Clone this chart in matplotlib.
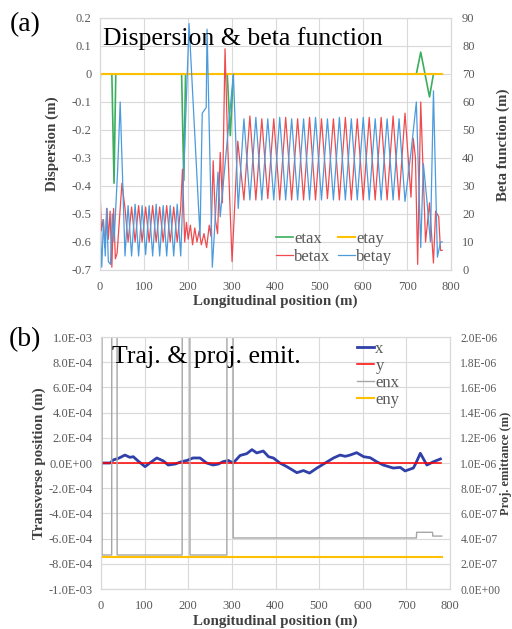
import matplotlib
matplotlib.use("Agg")
import matplotlib.pyplot as plt
from matplotlib.ticker import FixedLocator, FuncFormatter

plt.rcParams['font.family'] = ['Liberation Serif', 'DejaVu Serif']

# ---------------- panel (a): dispersion & beta function ----------------
etax_s = [0, 1, 27, 32, 36, 186, 191, 195, 290, 297, 304, 721, 731, 751, 760, 780]
etax = [-0.035, 0, 0, -0.39, 0, 0, -0.38, 0, 0, -0.22, 0, 0, 0.078, -0.082, 0, 0]

etay_s = [0, 780]
etay = [0, 0]

# matching section at the start
bx_start_s = [0, 3, 7, 11, 16, 19, 23, 27, 31, 35, 39, 50, 57]
bx_start = [30, 14, 18, 8, 22, 11, 21, 1, 22, 4, 6, 31, 22]
by_start_s = [0, 2, 4, 8, 12, 15, 19, 24, 28, 32, 40, 46, 57]
by_start = [27, 10, 1, 18, 5, 22, 3, 2, 20, 10, 35, 60, 5]

# first periodic section
cell1_s = [64, 72, 80, 88, 96, 104, 112, 120, 128, 136, 144, 152, 160, 168, 176, 184]
bx_cell1 = [10, 22.5, 10, 23, 10, 22.5, 10, 23, 10, 22.5, 10, 23, 10, 22.5, 10, 22.5]
by_cell1 = [23, 5, 23.5, 5, 23, 5.5, 23, 5, 23.5, 5, 23, 5, 23, 5, 23.5, 5]

# middle matching section
bx_mid_s = [188, 193, 197, 201, 206, 211, 216, 221, 226, 231, 237, 243, 249, 253,
            258, 263, 268, 274, 279, 285, 291, 301, 314]
bx_mid = [36, 10, 17, 11, 16, 9, 15, 10, 14, 9, 13, 8, 16, 12,
          39, 18, 13, 42, 24, 79, 45, 3, 46]
by_mid_s = [203, 228, 233, 242, 244, 256, 269, 274, 304, 315]
by_mid = [88, 12, 56, 58, 86, 1, 35, 19, 70, 22]

# second periodic section
cell2_s = [328.0, 341.6, 355.2, 368.8, 382.4, 396.0, 409.6, 423.2, 436.8, 450.4,
           464.0, 477.6, 491.2, 504.8, 518.4, 532.0, 545.6, 559.2, 572.8, 586.4,
           600.0, 613.6, 627.2, 640.8, 654.4, 668.0, 681.6, 695.2, 708.8]
bx_cell2 = [25, 55, 25, 54, 25.5, 54, 25, 54.5, 25, 54, 25, 54.5, 25, 54, 25.5,
            54, 25, 54.5, 25, 54, 25, 54.5, 25, 54.5, 25, 55, 25, 56, 26]
by_cell2 = [54, 25, 54.5, 25, 54, 25, 54.5, 25, 54, 25, 54, 25, 54.5, 25, 54,
            25, 54.5, 25, 54, 25, 54.5, 25, 54, 25, 54, 25, 54, 24.5, 42]

# final matching section
bx_end_s = [714, 719, 724, 731, 742, 751, 760, 765, 772, 776, 780]
bx_end = [47, 40, 2, 60, 10, 24, 2.5, 21, 19, 7, 7]
by_end_s = [721, 731, 737, 745, 753, 760, 769, 776, 780]
by_end = [60, 8, 38, 25, 10, 64, 4.6, 10, 10]

betax_s = bx_start_s + cell1_s + bx_mid_s + cell2_s + bx_end_s
betax = bx_start + bx_cell1 + bx_mid + bx_cell2 + bx_end
betay_s = by_start_s + cell1_s + by_mid_s + cell2_s + by_end_s
betay = by_start + by_cell1 + by_mid + by_cell2 + by_end

disp_ticks = [-0.7, -0.6, -0.5, -0.4, -0.3, -0.2, -0.1, 0, 0.1, 0.2]
beta_ticks = [0, 10, 20, 30, 40, 50, 60, 70, 80, 90]
pos_ticks = [0, 100, 200, 300, 400, 500, 600, 700, 800]

# ---------------- panel (b): trajectory & projected emittance ----------------
traj_s = [0, 21, 28, 40, 55, 66, 74, 85, 101, 112, 128, 143, 154, 170, 185, 197,
          211, 227, 242, 257, 269, 280, 292, 303, 319, 334, 346, 357, 372, 384,
          395, 410, 426, 449, 464, 478, 495, 514, 533, 548, 560, 571, 586, 602,
          617, 632, 647, 670, 686, 697, 716, 722, 732, 747, 762, 778]
traj_x_um = [0, 0, 24, 37, 63, 45, 50, 16, -29, 0, 40, 16, -16, -8, 11, 20,
             40, 40, 0, -16, -8, 11, 20, 0, 60, 74, 106, 80, 95, 50,
             40, 0, -29, -77, -60, -80, -40, 0, 40, 63, 53, 63, 82, 50,
             42, 10, -16, -40, -35, -63, -40, 0, 77, -16, 10, 32]
traj_y_s = [0, 780]
traj_y_um = [0, 0]

enx_s = [0, 2, 2.5, 24.5, 25, 36.5, 37, 186, 186.5, 203.5, 204, 288.5, 289,
         302.5, 303, 723, 723.5, 760, 760.5, 781]
enx = [5e-6, 5e-6, 2.7e-7, 2.7e-7, 5e-6, 5e-6, 2.7e-7, 2.7e-7, 5e-6, 5e-6,
       2.7e-7, 2.7e-7, 5e-6, 5e-6, 4.05e-7, 4.05e-7, 4.5e-7, 4.5e-7, 4.2e-7, 4.2e-7]
eny_s = [0, 781]
eny = [2.55e-7, 2.55e-7]

trans_ticks = [-1e-3, -8e-4, -6e-4, -4e-4, -2e-4, 0, 2e-4, 4e-4, 6e-4, 8e-4, 1e-3]
emit_ticks = [0, 2e-7, 4e-7, 6e-7, 8e-7, 1e-6, 1.2e-6, 1.4e-6, 1.6e-6, 1.8e-6, 2e-6]

TICK_COLOR = '#595959'
GRID_COLOR = '#D9D9D9'
LABEL_COLOR = '#404040'


def excel_style(ax, side_pad=6.5, size=9):
    for sp in ax.spines.values():
        sp.set_color(GRID_COLOR)
        sp.set_linewidth(0.8)
    ax.tick_params(length=0, colors=TICK_COLOR, labelsize=size, pad=side_pad)


def sci(v, pos):
    return "{:.1E}".format(v)


def plain(v, pos):
    if abs(v) < 1e-9:
        return "0"
    return "{:g}".format(round(v, 2))


fig = plt.figure(figsize=(5.12, 6.29), dpi=100)

# ---- (a) ----
ax1 = fig.add_axes([100 / 512, 1 - 270 / 629, 351 / 512, 252 / 629])
ax1r = ax1.twinx()
l_etax, = ax1.plot(etax_s, etax, color='#3DAE5E', lw=1.2)
l_etay, = ax1.plot(etay_s, etay, color='#FFC000', lw=1.5)
l_bx, = ax1r.plot(betax_s, betax, color='#EE4B4F', lw=0.9)
l_by, = ax1r.plot(betay_s, betay, color='#4B9BDD', lw=0.9)

ax1.set_xlim(0, 800)
ax1.set_ylim(-0.7, 0.2)
ax1r.set_ylim(0, 90)
ax1.xaxis.set_major_locator(FixedLocator(pos_ticks))
ax1.yaxis.set_major_locator(FixedLocator(disp_ticks))
ax1r.yaxis.set_major_locator(FixedLocator(beta_ticks))
ax1.yaxis.set_major_formatter(FuncFormatter(plain))
ax1.grid(True, color=GRID_COLOR, lw=0.8)
ax1.set_axisbelow(True)
excel_style(ax1, side_pad=6)
excel_style(ax1r, side_pad=8)
ax1.tick_params(axis='x', pad=8)

ax1r.legend([l_etax, l_bx, l_etay, l_by], ['etax', 'betax', 'etay', 'betay'],
            ncol=2, loc='upper left', bbox_to_anchor=(276 / 512, 1 - 231 / 629),
            bbox_transform=fig.transFigure, frameon=False, fontsize=12,
            handlelength=1.0, handletextpad=0.1, columnspacing=0.45,
            labelspacing=0.12, borderpad=0, borderaxespad=0, labelcolor=TICK_COLOR)

fig.text(103 / 512, 1 - 45 / 629, 'Dispersion & beta function', fontsize=18.5,
         va='baseline', ha='left')
fig.text(25 / 512, 1 - 25 / 629, '(a)', fontsize=20, ha='center', va='center')
fig.text(52 / 512, 1 - 144 / 629, 'Dispersion (m)', rotation=90, fontsize=10.8,
         fontweight='bold', ha='center', va='center', color=LABEL_COLOR)
fig.text(503 / 512, 1 - 145 / 629, 'Beta function (m)', rotation=90, fontsize=10.8,
         fontweight='bold', ha='center', va='center', color=LABEL_COLOR)
fig.text(275 / 512, 1 - 301 / 629, 'Longitudinal position (m)', fontsize=10.8,
         fontweight='bold', ha='center', va='center', color=LABEL_COLOR)

# ---- (b) ----
ax2 = fig.add_axes([101 / 512, 1 - 589 / 629, 349 / 512, 252 / 629])
ax2r = ax2.twinx()
l_x, = ax2.plot(traj_s, [v * 1e-6 for v in traj_x_um], color='#3040A8', lw=2.0)
l_y, = ax2.plot(traj_y_s, [v * 1e-6 for v in traj_y_um], color='#FF0000', lw=1.1)
l_enx, = ax2r.plot(enx_s, enx, color='#A6A6A6', lw=1.0)
l_eny, = ax2r.plot(eny_s, eny, color='#FFC000', lw=1.5)

ax2.set_xlim(0, 800)
ax2.set_ylim(-1e-3, 1e-3)
ax2r.set_ylim(0, 2e-6)
ax2.xaxis.set_major_locator(FixedLocator(pos_ticks))
ax2.yaxis.set_major_locator(FixedLocator(trans_ticks))
ax2r.yaxis.set_major_locator(FixedLocator(emit_ticks))
ax2.yaxis.set_major_formatter(FuncFormatter(sci))
ax2r.yaxis.set_major_formatter(FuncFormatter(sci))
ax2.grid(True, color=GRID_COLOR, lw=0.8)
ax2.set_axisbelow(True)
excel_style(ax2, side_pad=6)
excel_style(ax2r, side_pad=7.5, size=8.4)
ax2.tick_params(axis='x', pad=8)

ax2r.legend([l_x, l_y, l_enx, l_eny], ['x', 'y', 'enx', 'eny'],
            loc='upper left', bbox_to_anchor=(357 / 512, 1 - 341 / 629),
            bbox_transform=fig.transFigure, frameon=False, fontsize=12,
            handlelength=1.0, handletextpad=0.1, labelspacing=0.05,
            borderpad=0, borderaxespad=0, labelcolor=TICK_COLOR)

fig.text(112 / 512, 1 - 363 / 629, 'Traj. & proj. emit.', fontsize=18.5,
         va='baseline', ha='left')
fig.text(25 / 512, 1 - 340 / 629, '(b)', fontsize=20, ha='center', va='center')
fig.text(39 / 512, 1 - 463 / 629, 'Transverse position (m)', rotation=90, fontsize=10.8,
         fontweight='bold', ha='center', va='center', color=LABEL_COLOR)
fig.text(506.5 / 512, 1 - 463 / 629, 'Proj. emittance (m)', rotation=90, fontsize=9,
         fontweight='bold', ha='center', va='center', color=LABEL_COLOR)
fig.text(275 / 512, 1 - 621 / 629, 'Longitudinal position (m)', fontsize=10.8,
         fontweight='bold', ha='center', va='center', color=LABEL_COLOR)

fig.savefig('out.png', dpi=100, facecolor='white')
